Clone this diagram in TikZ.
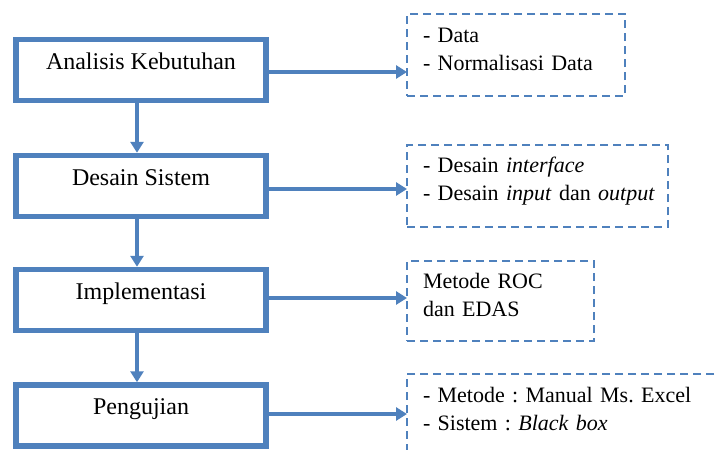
\documentclass[tikz,border=0pt]{standalone}
\usepackage{fontspec}
\setmainfont{Liberation Serif}
\usetikzlibrary{arrows.meta}
\definecolor{obl}{RGB}{79,129,189}
\frenchspacing
\begin{document}
\begin{tikzpicture}[x=1pt,y=-1pt,
  stage/.style={draw=obl, line width=5.5pt, minimum width=250pt, minimum height=61pt,
    inner sep=0pt, text height=10pt, text depth=12pt, font=\fontsize{24}{28}\selectfont\frenchspacing},
  note/.style={draw=obl, line width=2.7pt, dash pattern=on 8pt off 5pt, anchor=north west,
    outer sep=0pt, inner ysep=0pt, inner xsep=16pt, align=left,
    font=\fontsize{22}{28}\selectfont\frenchspacing},
  flow/.style={draw=obl, line width=4pt, -{Triangle[length=11pt,width=13pt]}}]
\clip (0,0) rectangle (716,450);
\fill[white] (0,0) rectangle (716,450);

\node[stage] (b1) at (141,70) {Analisis Kebutuhan};
\node[stage] (b2) at (141,186) {Desain Sistem};
\node[stage] (b3) at (141,300) {Implementasi};
\node[stage] (b4) at (141,415.5) {Pengujian};

\node[note, text width=186pt] (d1) at (407,14)
  {\rule{0pt}{28pt}\mbox{- Data}\\\mbox{- Normalisasi Data}\rule[-26pt]{0pt}{26pt}};
\node[note, text width=229pt] (d2) at (407,145)
  {\rule{0pt}{27pt}\mbox{- Desain \textit{interface}}\\\mbox{- Desain \textit{input} dan \textit{output}}\rule[-27pt]{0pt}{27pt}};
\node[note, text width=155pt] (d3) at (407,261)
  {\rule{0pt}{27pt}\mbox{Metode ROC}\\\mbox{dan EDAS}\rule[-25pt]{0pt}{25pt}};
\node[note, text width=330pt] (d4) at (407,374)
  {\rule{0pt}{28pt}\mbox{- Metode : Manual Ms. Excel}\\\mbox{- Sistem : \textit{Black box}}\rule[-60pt]{0pt}{60pt}};

\draw[flow] ([xshift=-4pt]b1.south) -- ([xshift=-4pt]b2.north);
\draw[flow] ([xshift=-4pt]b2.south) -- ([xshift=-4pt]b3.north);
\draw[flow] ([xshift=-4pt]b3.south) -- ([xshift=-4pt]b4.north);

\draw[flow] ([yshift=-2pt]b1.east) -- ([yshift=-2pt]b1.east -| d1.west);
\draw[flow] ([yshift=-3pt]b2.east) -- ([yshift=-3pt]b2.east -| d2.west);
\draw[flow] ([yshift=2pt]b3.east) -- ([yshift=2pt]b3.east -| d3.west);
\draw[flow] ([yshift=1.5pt]b4.east) -- ([yshift=1.5pt]b4.east -| d4.west);
\end{tikzpicture}
\end{document}
